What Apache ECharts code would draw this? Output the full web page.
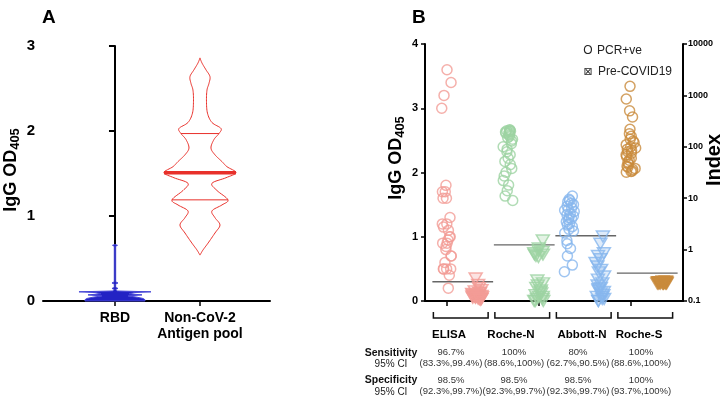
<!DOCTYPE html>
<html>
<head>
<meta charset="utf-8">
<script src="https://cdn.jsdelivr.net/npm/echarts@6/dist/echarts.min.js"></script>
<style>
html, body { margin: 0; padding: 0; background: #fff; }
#main { width: 722px; height: 400px; }
</style>
</head>
<body>
<div id="main"></div>
<script>
// ---- panel A : violins ----
var violinCats = ['RBD', 'Non-CoV-2\nAntigen pool'];
// [IgG OD, relative density]
var rbdProfile = [[0.665, 0], [0.655, 2.5], [0.645, 0.7], [0.225, 0.7], [0.212, 3], [0.2, 0.7],
    [0.16, 0.7], [0.148, 3], [0.136, 0.7], [0.118, 2], [0.108, 36], [0.1, 20], [0.085, 14],
    [0.072, 27], [0.06, 13], [0.045, 22], [0.03, 28], [0.015, 30], [0, 30]];
var poolProfile = [[2.86, 0], [2.8, 2], [2.72, 6], [2.64, 10], [2.56, 9], [2.48, 7], [2.35, 6.5],
    [2.21, 7.5], [2.1, 12], [2.03, 21], [1.97, 19], [1.9, 14], [1.8, 11], [1.72, 15], [1.64, 22],
    [1.58, 27], [1.51, 36], [1.45, 26], [1.385, 12], [1.3, 17], [1.19, 28], [1.13, 22], [1.06, 12],
    [0.98, 15], [0.894, 20], [0.8, 15], [0.68, 8], [0.6, 3], [0.54, 0]];
var poolQuartiles = [1.19, 1.51, 1.97];

// ---- panel B : assays ----
var groups = ['ELISA', 'Roche-N', 'Abbott-N', 'Roche-S'];
var elisaPos = [3.6, 3.4, 3.2, 3.0, 1.8, 1.7, 1.7, 1.6, 1.6, 1.3, 1.2, 1.2, 1.15, 1.1, 1.0, 1.0, 0.95, 0.9, 0.9, 0.85, 0.8, 0.7, 0.7, 0.6, 0.5, 0.5, 0.5, 0.5, 0.4, 0.2];
var elisaPre = [0.35, 0.25, 0.2, 0.17, 0.15, 0.13, 0.12, 0.11, 0.1, 0.1, 0.09, 0.09, 0.08, 0.08, 0.07, 0.07, 0.06, 0.06, 0.05, 0.05, 0.05, 0.04, 0.04, 0.03, 0.03, 0.02];
var rocheNPos = [215, 210, 205, 200, 200, 195, 190, 185, 180, 170, 160, 150, 140, 130, 115, 100, 90, 80, 70, 60, 52, 45, 38, 32, 27, 22, 18, 14, 11, 9];
var rocheNPre = [1.5, 1.05, 0.95, 0.9, 0.85, 0.8, 0.8, 0.75, 0.72, 0.25, 0.22, 0.2, 0.18, 0.16, 0.15, 0.14, 0.13, 0.12, 0.12, 0.11, 0.11, 0.1, 0.1, 0.1];
var abbottPos = [11, 9.5, 9, 8.5, 8, 7.5, 7, 6.5, 6, 5.8, 5.5, 5, 4.8, 4.5, 4.2, 4, 3.8, 3.5, 3.2, 3, 2.8, 2.5, 2.3, 2.1, 1.5, 1.3, 1.05, 0.75, 0.5, 0.37];
var abbottPre = [1.8, 1.3, 0.85, 0.75, 0.65, 0.55, 0.47, 0.4, 0.36, 0.3, 0.26, 0.22, 0.2, 0.18, 0.17, 0.16, 0.15, 0.14, 0.13, 0.12, 0.12, 0.11, 0.11, 0.1, 0.1];
var rocheSPos = [1500, 850, 500, 380, 220, 180, 160, 140, 130, 120, 110, 100, 95, 90, 85, 80, 75, 70, 65, 60, 55, 50, 46, 42, 40, 38, 36, 34, 33, 32];
var rocheSPre = [0.24, 0.24, 0.23, 0.23, 0.23, 0.23, 0.23, 0.23, 0.23, 0.23, 0.23, 0.23, 0.22, 0.22, 0.22, 0.22, 0.22, 0.22, 0.22, 0.22];
var elisaCut = 0.3;           // OD
var indexCuts = [1.24, 1.86, 0.35];   // Roche-N, Abbott-N, Roche-S (index)
var leftTicks = [0, 1, 2, 3, 4];
var indexTicks = [0.1, 1, 10, 100, 1000, 10000];

var sensitivity = ['96.7%', '100%', '80%', '100%'];
var sensCI = ['(83.3%,99.4%)', '(88.6%,100%)', '(62.7%,90.5%)', '(88.6%,100%)'];
var specificity = ['98.5%', '98.5%', '98.5%', '100%'];
var specCI = ['(92.3%,99.7%)', '(92.3%,99.7%)', '(92.3%,99.7%)', '(93.7%,100%)'];

var colors = ['#f39c96', '#9dd3a2', '#87b6ee', '#c98b3c'];
var FONT = 'Liberation Sans, Arial, sans-serif';

var myChart = echarts.init(document.getElementById('main'));

function toXY(arr, cat) {
    return arr.map(function (v) { return [cat, v]; });
}
function hexA(hex, a) {
    var n = parseInt(hex.slice(1), 16);
    return 'rgba(' + (n >> 16) + ',' + ((n >> 8) & 255) + ',' + (n & 255) + ',' + a + ')';
}
function densityAt(prof, v) {
    for (var i = 0; i < prof.length - 1; i++) {
        var a = prof[i], b = prof[i + 1];
        if (v <= a[0] && v >= b[0]) {
            return a[1] + (b[1] - a[1]) * (a[0] - v) / (a[0] - b[0]);
        }
    }
    return 0;
}
// catmull-rom through the outline points, just for drawing a smooth edge
function catmull(pts, steps) {
    var out = [], n = pts.length;
    for (var i = 0; i < n - 1; i++) {
        var p0 = pts[Math.max(i - 1, 0)], p1 = pts[i], p2 = pts[i + 1], p3 = pts[Math.min(i + 2, n - 1)];
        for (var s = 0; s < steps; s++) {
            var t = s / steps, t2 = t * t, t3 = t2 * t;
            var q = [0, 1].map(function (k) {
                return 0.5 * (2 * p1[k] + (-p0[k] + p2[k]) * t + (2 * p0[k] - 5 * p1[k] + 4 * p2[k] - p3[k]) * t2
                    + (-p0[k] + 3 * p1[k] - 3 * p2[k] + p3[k]) * t3);
            });
            out.push(q);
        }
    }
    out.push(pts[n - 1]);
    return out;
}

var profiles = [rbdProfile, poolProfile];
function renderViolin(params, api) {
    var idx = api.value(0);
    var prof = profiles[idx];
    var isRbd = idx === 0;
    var cx = api.coord([idx, 0])[0];
    var right = prof.map(function (p) {
        var c = api.coord([idx, p[0]]);
        return [p[1], c[1]];
    });
    if (!isRbd) right = catmull(right, 8);
    var pts = [];
    right.forEach(function (p) { pts.push([cx + Math.max(p[0], 0), p[1]]); });
    for (var i = right.length - 1; i >= 0; i--) pts.push([cx - Math.max(right[i][0], 0), right[i][1]]);
    return {
        type: 'polygon',
        shape: { points: pts },
        style: isRbd ? { fill: '#2323c4', stroke: '#4646d6', lineWidth: 1 }
                     : { fill: 'none', stroke: '#e8302a', lineWidth: 1 }
    };
}
function renderQuartile(params, api) {
    var v = api.value(1);
    var c = api.coord([api.value(0), v]);
    var hw = densityAt(poolProfile, v);
    return {
        type: 'line',
        shape: { x1: c[0] - hw, y1: c[1], x2: c[0] + hw, y2: c[1] },
        style: { stroke: '#e8302a', lineWidth: params.dataIndex === 1 ? 3.5 : 1 }
    };
}
function renderCut(params, api) {
    var g = api.value(0), v = api.value(1);
    var a = api.coord([2 * g, v]), b = api.coord([2 * g + 1, v]);
    return {
        type: 'line',
        shape: { x1: a[0] - 14, y1: a[1], x2: b[0] + 16, y2: a[1] },
        style: { stroke: '#666', lineWidth: 1.3 }
    };
}
function renderBracket(params, api) {
    var g = api.value(0);
    var a = api.coord([2 * g, 0]), b = api.coord([2 * g + 1, 0]);
    return {
        type: 'polyline',
        shape: { points: [[a[0] - 13, a[1] + 11], [a[0] - 13, a[1] + 17], [b[0] + 11, a[1] + 17], [b[0] + 11, a[1] + 11]] },
        style: { stroke: '#111', lineWidth: 1.5, fill: 'none' }
    };
}

var circleStyle = function (col) {
    return { type: 'scatter', xAxisIndex: 1, symbol: 'circle', symbolSize: 10,
        itemStyle: { color: 'rgba(0,0,0,0)', borderColor: col, borderWidth: 1.5 } };
};
var triStyle = function (col) {
    return { type: 'scatter', xAxisIndex: 1, symbol: 'triangle', symbolSize: [13, 11], symbolRotate: 180,
        itemStyle: { color: hexA(col, 0.35), borderColor: col, borderWidth: 1.5 } };
};
function sc(base, yIdx, data) {
    base.yAxisIndex = yIdx;
    base.data = data;
    return base;
}

var subLabel = {
    a: { fontSize: 18, fontWeight: 'bold', fontFamily: FONT, lineHeight: 22, verticalAlign: 'middle' },
    b: { fontSize: 13, fontWeight: 'bold', fontFamily: FONT, lineHeight: 13, verticalAlign: 'bottom' }
};

var graphics = [
    { type: 'text', left: 42, top: 8, style: { text: 'A', font: 'bold 19px ' + FONT, fill: '#000' } },
    { type: 'text', left: 412, top: 8, style: { text: 'B', font: 'bold 19px ' + FONT, fill: '#000' } },
    { type: 'text', x: 11, y: 170, rotation: Math.PI / 2,
      style: { text: '{a|IgG OD}{b|405}', rich: subLabel, align: 'center', verticalAlign: 'middle', fill: '#000' } },
    { type: 'text', x: 396, y: 158, rotation: Math.PI / 2,
      style: { text: '{a|IgG OD}{b|405}', rich: subLabel, align: 'center', verticalAlign: 'middle', fill: '#000' } },
    { type: 'text', x: 714, y: 160, rotation: Math.PI / 2,
      style: { text: 'Index', font: 'bold 20px ' + FONT, align: 'center', verticalAlign: 'middle', fill: '#000' } },
    { type: 'text', x: 588, y: 51, style: { text: 'O', font: '12px ' + FONT, align: 'center', verticalAlign: 'middle', fill: '#222' } },
    { type: 'text', x: 597, y: 51, style: { text: 'PCR+ve', font: '12px ' + FONT, verticalAlign: 'middle', fill: '#222' } },
    { type: 'text', x: 588, y: 72, style: { text: '\u22a0', font: '11px DejaVu Sans', align: 'center', verticalAlign: 'middle', fill: '#222' } },
    { type: 'text', x: 598, y: 72, style: { text: 'Pre-COVID19', font: '12px ' + FONT, verticalAlign: 'middle', fill: '#222' } },
    { type: 'text', x: 391, y: 353, style: { text: 'Sensitivity', font: 'bold 10.5px ' + FONT, align: 'center', verticalAlign: 'middle', fill: '#111' } },
    { type: 'text', x: 391, y: 364, style: { text: '95% CI', font: '10px ' + FONT, align: 'center', verticalAlign: 'middle', fill: '#222' } },
    { type: 'text', x: 391, y: 380, style: { text: 'Specificity', font: 'bold 10.5px ' + FONT, align: 'center', verticalAlign: 'middle', fill: '#111' } },
    { type: 'text', x: 391, y: 392, style: { text: '95% CI', font: '10px ' + FONT, align: 'center', verticalAlign: 'middle', fill: '#222' } }
];
var groupX = [449, 511, 582, 639];
var valueX = [451, 514, 578, 641];
for (var g = 0; g < groups.length; g++) {
    graphics.push({ type: 'text', x: groupX[g], y: 335, style: { text: groups[g], font: 'bold 11.5px ' + FONT, align: 'center', verticalAlign: 'middle', fill: '#000' } });
    graphics.push({ type: 'text', x: valueX[g], y: 352, style: { text: sensitivity[g], font: '9.5px ' + FONT, align: 'center', verticalAlign: 'middle', fill: '#333' } });
    graphics.push({ type: 'text', x: valueX[g], y: 363, style: { text: sensCI[g], font: '9.5px ' + FONT, align: 'center', verticalAlign: 'middle', fill: '#333' } });
    graphics.push({ type: 'text', x: valueX[g], y: 380, style: { text: specificity[g], font: '9.5px ' + FONT, align: 'center', verticalAlign: 'middle', fill: '#333' } });
    graphics.push({ type: 'text', x: valueX[g], y: 391, style: { text: specCI[g], font: '9.5px ' + FONT, align: 'center', verticalAlign: 'middle', fill: '#333' } });
}

var axisBlack = { lineStyle: { color: '#000', width: 2 } };

var option = {
    animation: false,
    textStyle: { fontFamily: FONT },
    grid: [
        { left: 43, top: 46, width: 227, height: 255 },
        { left: 431, top: 44, width: 246, height: 257 },
        { left: 425, top: 44, width: 258, height: 257 }
    ],
    xAxis: [
        { gridIndex: 0, type: 'value', min: -0.847, max: 1.824,
          axisLine: axisBlack, splitLine: { show: false },
          axisTick: { customValues: [0, 1], length: 5, lineStyle: { color: '#000', width: 1.5 } },
          axisLabel: { customValues: [0, 1], margin: 9, color: '#000', fontWeight: 'bold', fontSize: 14, lineHeight: 16,
                       formatter: function (v) { return violinCats[Math.round(v)]; } } },
        { gridIndex: 1, type: 'category', data: ['ELISA +', 'ELISA -', 'Roche-N +', 'Roche-N -', 'Abbott-N +', 'Abbott-N -', 'Roche-S +', 'Roche-S -'],
          jitter: 10, jitterOverlap: true,
          axisLine: { show: false }, axisLabel: { show: false },
          axisTick: { show: true, alignWithLabel: true, length: 5, lineStyle: { color: '#000', width: 1.5 } } },
        { gridIndex: 2, type: 'value', min: 0, max: 1, axisLine: axisBlack,
          axisTick: { show: false }, axisLabel: { show: false }, splitLine: { show: false } }
    ],
    yAxis: [
        { gridIndex: 0, type: 'value', min: 0, max: 3, interval: 1,
          axisLine: { show: true, lineStyle: { color: '#000', width: 2 } }, splitLine: { show: false },
          axisTick: { show: true, length: 6, lineStyle: { color: '#000', width: 2 } },
          axisLabel: { color: '#000', fontWeight: 'bold', fontSize: 15, margin: 8 } },
        { gridIndex: 1, type: 'value', min: leftTicks[0], max: leftTicks[leftTicks.length - 1], interval: 1, offset: 6,
          axisLine: { show: true, lineStyle: { color: '#000', width: 2 } }, splitLine: { show: false },
          axisTick: { show: true, length: 4, lineStyle: { color: '#000', width: 1.5 } },
          axisLabel: { color: '#000', fontWeight: 'bold', fontSize: 11, margin: 7 } },
        { gridIndex: 1, type: 'log', logBase: 10, min: indexTicks[0], max: indexTicks[indexTicks.length - 1], position: 'right', offset: 6,
          axisLine: { show: true, lineStyle: { color: '#000', width: 2 } }, splitLine: { show: false },
          axisTick: { show: true, length: 4, lineStyle: { color: '#000', width: 1.5 } },
          axisLabel: { color: '#000', fontWeight: 'bold', fontSize: 9, margin: 5,
                       formatter: function (v) { return String(+v.toPrecision(3)); } } },
        { gridIndex: 2, type: 'value', show: false, min: 0, max: 1 }
    ],
    graphic: graphics,
    series: [
        { type: 'custom', xAxisIndex: 0, yAxisIndex: 0, renderItem: renderViolin, data: [[0], [1]] },
        { type: 'custom', xAxisIndex: 0, yAxisIndex: 0, renderItem: renderQuartile,
          data: poolQuartiles.map(function (q) { return [1, q]; }) },
        sc(circleStyle(colors[0]), 1, toXY(elisaPos, 0)),
        sc(triStyle(colors[0]), 1, toXY(elisaPre, 1)),
        sc(circleStyle(colors[1]), 2, toXY(rocheNPos, 2)),
        sc(triStyle(colors[1]), 2, toXY(rocheNPre, 3)),
        sc(circleStyle(colors[2]), 2, toXY(abbottPos, 4)),
        sc(triStyle(colors[2]), 2, toXY(abbottPre, 5)),
        sc(circleStyle(colors[3]), 2, toXY(rocheSPos, 6)),
        sc(triStyle(colors[3]), 2, toXY(rocheSPre, 7)),
        { type: 'custom', xAxisIndex: 1, yAxisIndex: 1, renderItem: renderCut, data: [[0, elisaCut]] },
        { type: 'custom', xAxisIndex: 1, yAxisIndex: 2, renderItem: renderCut,
          data: indexCuts.map(function (c, i) { return [i + 1, c]; }) },
        { type: 'custom', xAxisIndex: 1, yAxisIndex: 1, renderItem: renderBracket, data: [[0], [1], [2], [3]] }
    ]
};
myChart.setOption(option);
</script>
</body>
</html>
